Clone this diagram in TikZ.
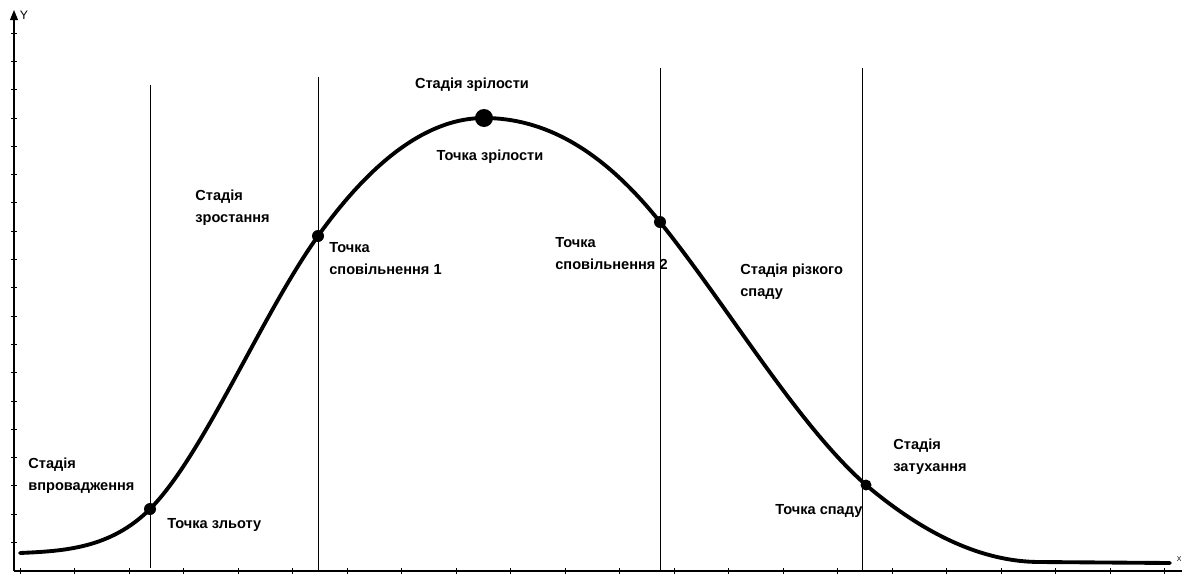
\documentclass[tikz,border=0pt]{standalone}
\usepackage{fontspec}
\setmainfont{Liberation Sans}
\usetikzlibrary{arrows.meta, positioning}

\begin{document}
\begin{tikzpicture}[
    x=0.02cm, y=-0.02cm,
    axis/.style={-{Triangle[length=5.7pt, width=4.5pt]}, line width=0.6pt},
    tick/.style={line width=0.4pt},
    stageline/.style={line width=0.5pt},
    curve/.style={line width=2.2pt, line cap=round},
    dot/.style={circle, fill, inner sep=0pt, minimum size=#1},
    lbl/.style={font=\fontsize{8.3}{12.5}\selectfont\bfseries, align=left, inner sep=0pt, anchor=west}
]
\useasboundingbox (0,0) rectangle (1182,575);

% Axes
\coordinate (o) at (14,571);
\coordinate (ytop) at (14,10);
\coordinate (xend) at (1192,571);
\draw[axis] (o) -- (ytop);
\draw[axis] (o) -- (xend);
\node[font=\fontsize{7}{8}\selectfont, inner sep=0pt] (ylab) at (24,15) {Y};
\node[font=\fontsize{4}{5}\selectfont, inner sep=0pt, anchor=east] (xlab) at (1182,559) {X};
\foreach \k in {0,...,18}
    \draw[tick] (11,{33+28.3*\k}) -- (17,{33+28.3*\k});
\foreach \k in {0,...,21}
    \draw[tick] ({20+54.5*\k},568) -- ({20+54.5*\k},574);

% Stage borders
\draw[stageline] (150,85) -- (150,568);
\draw[stageline] (318,77) -- (318,571);
\draw[stageline] (660,68) -- (660,571);
\draw[stageline] (862,68) -- (862,571);

% Key points
\coordinate (p0) at (20,553);
\coordinate (p1) at (150,509);
\coordinate (p2) at (318,236);
\coordinate (p3) at (484,118);
\coordinate (p4) at (660,222);
\coordinate (p5) at (866,485);
\coordinate (p6) at (1040,562);
\coordinate (p7) at (1170,563);

% Life cycle curve
\draw[curve] (p0) .. controls (63,551) and (110,549) .. (p1)
    .. controls (203,456) and (262,314) .. (p2)
    .. controls (373,159) and (429,118) .. (p3)
    .. controls (543,118) and (601,148) .. (p4)
    .. controls (729,308) and (797,424) .. (p5)
    .. controls (924,534) and (982,562) .. (p6)
    -- (p7);

\node[dot=0.24cm] (zlit) at (p1) {};
\node[dot=0.24cm] (spov1) at (p2) {};
\node[dot=0.36cm] (zril) at (p3) {};
\node[dot=0.24cm] (spov2) at (p4) {};
\node[dot=0.22cm] (spad) at (p5) {};

% Labels
\node[lbl] (stvpr) at (28,476) {Стадія\\впровадження};
\node[lbl] (tzlit) at (167,525) {Точка зльоту};
\node[lbl] (stzr) at (195,208) {Стадія\\зростання};
\node[lbl] (tspov1) at (329,259) {Точка\\сповільнення 1};
\node[lbl, anchor=center] (stzril) at (472,85) {Стадія зрілости};
\node[lbl, anchor=center] (tzril) at (490,157) {Точка зрілости};
\node[lbl] (tspov2) at (555,254) {Точка\\сповільнення 2};
\node[lbl] (strsp) at (740,282) {Стадія різкого\\спаду};
\node[lbl] (stzat) at (893,457) {Стадія\\затухання};
\node[lbl] (tspad) at (775,511) {Точка спаду};

\end{tikzpicture}
\end{document}
